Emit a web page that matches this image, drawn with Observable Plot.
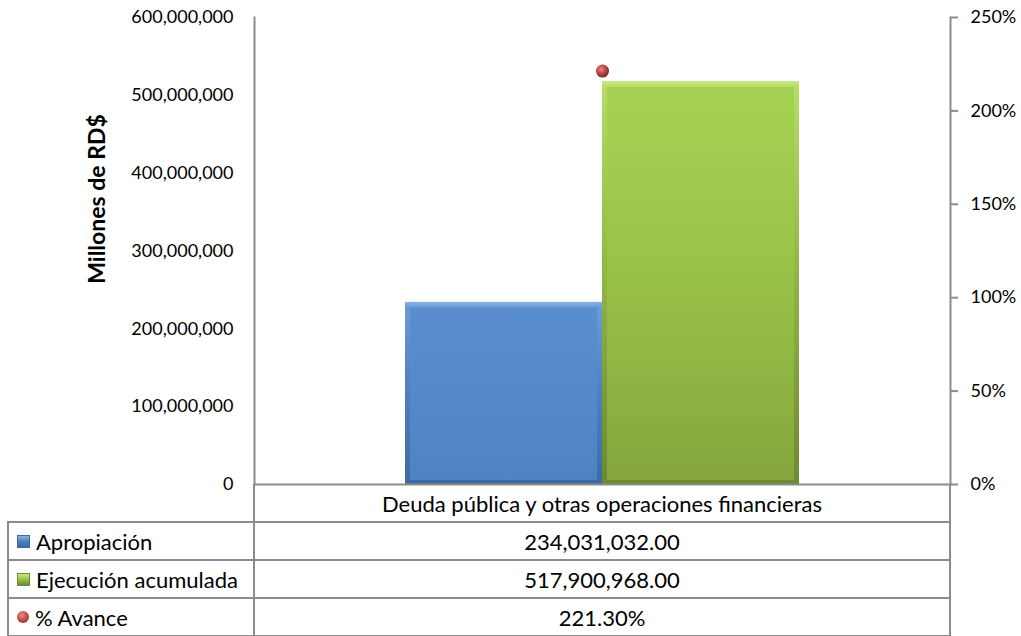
<!DOCTYPE html>
<html><head><meta charset="utf-8">
<script src="https://cdn.jsdelivr.net/npm/d3@7"></script>
<script src="https://cdn.jsdelivr.net/npm/@observablehq/plot@0.6"></script>
<style>
body{margin:0;background:#fff;font-family:Lato,"Open Sans",sans-serif;}
#wrap{position:relative;width:1021px;height:636px;overflow:hidden;background:#fff}
#wrap svg{position:absolute;left:0;top:0}
.cell{position:absolute;box-sizing:border-box;display:flex;align-items:center;font-size:22px;color:#000;white-space:nowrap}
.ln{position:absolute;background:#8c8c8c}
.ico{display:inline-block;width:13px;height:13px;margin-right:6px;box-sizing:border-box}
</style></head><body><div id="wrap"></div>
<script>
// ---- data ----
const category = "Deuda pública y otras operaciones financieras";
const series = ["Apropiación", "Ejecución acumulada"];
const values = [234031032.00, 517900968.00];
const avanceLabel = "% Avance";
const avance = [221.30];
const leftTicks = [0, 100000000, 200000000, 300000000, 400000000, 500000000, 600000000];
const rightTicks = [0, 50, 100, 150, 200, 250];
const yMax = 600000000, pMax = 250;
const yTitle = "Millones de RD$";

const fills = ["url(#gBlue)", "url(#gGreen)"];
const edges = ["url(#eBlue)", "url(#eGreen)"];
const data = series.map((s, i) => ({series: s, value: values[i], fill: fills[i], edge: edges[i]}));
const pct2y = p => p / pMax * yMax;

const W = 1021, H = 636, ML = 254, MR = 71, MT = 17, MB = 152;
const chart = Plot.plot({
  width: W, height: H, marginLeft: ML, marginRight: MR, marginTop: MT, marginBottom: MB,
  style: {fontFamily: "Lato, 'Open Sans', sans-serif", fontSize: "18px", color: "#000", background: "transparent"},
  x: {domain: series, paddingInner: 0, paddingOuter: 0.758, axis: null},
  y: {domain: [0, yMax], axis: null},
  marks: [
    Plot.barY(data, {x: "series", y: "value", fill: d => d.edge}),
    Plot.barY(data, {x: "series", y: "value", fill: d => d.fill, insetTop: 6, insetBottom: 4, insetLeft: 5, insetRight: 5}),
    Plot.ruleY([0], {stroke: "#8c8c8c", strokeWidth: 2}),
    Plot.frame({anchor: "left", stroke: "#8c8c8c", strokeWidth: 2}),
    Plot.frame({anchor: "right", stroke: "#8c8c8c", strokeWidth: 2}),
    Plot.axisY({ticks: leftTicks, anchor: "left", tickSize: 0, tickPadding: 21, tickFormat: d3.format(","), label: null, fill: "#000"}),
    Plot.axisY({ticks: rightTicks.map(pct2y), anchor: "right", tickSize: 7, tickPadding: 13, stroke: "#8c8c8c", strokeWidth: 2,
      tickFormat: v => Math.round(v / yMax * pMax) + "%", label: null, fill: "#000"}),
    Plot.dot(avance, {y: d => pct2y(d), r: 6.5, fill: "url(#gDot)", stroke: "none"}),
    Plot.text([yTitle], {frameAnchor: "left", textAnchor: "middle", rotate: -90, dx: -157, dy: -52, fontWeight: "bold", fontSize: 23, fill: "#000"})
  ]
});

// gradients
const defs = d3.select(chart).insert("defs", ":first-child");
function lin(id, stops, x2 = 0, y2 = 1) {
  const g = defs.append("linearGradient").attr("id", id).attr("x1", 0).attr("y1", 0).attr("x2", x2).attr("y2", y2);
  stops.forEach(([o, c]) => g.append("stop").attr("offset", o).attr("stop-color", c));
}
lin("gBlue", [[0, "#5a8fcf"], [1, "#4f82c2"]]);
lin("eBlue", [[0, "#8ab3e4"], [0.03, "#6a9bd6"], [0.5, "#4f80bd"], [1, "#3c6aa3"]]);
lin("gGreen", [[0, "#a6d253"], [0.5, "#98c148"], [1, "#86a63d"]]);
lin("eGreen", [[0, "#cbe88a"], [0.015, "#b5dc66"], [0.5, "#8fb444"], [1, "#6c8a30"]]);
const rg = defs.append("radialGradient").attr("id", "gDot").attr("cx", "40%").attr("cy", "35%").attr("r", "65%");
[[0, "#f08a84"], [0.45, "#c0504d"], [1, "#7a2422"]].forEach(([o, c]) => rg.append("stop").attr("offset", o).attr("stop-color", c));

const wrap = document.getElementById("wrap");
wrap.appendChild(chart);

// data table below the chart
function line(x, y, w, h) {
  const d = document.createElement("div"); d.className = "ln";
  Object.assign(d.style, {left: x + "px", top: y + "px", width: w + "px", height: h + "px"});
  wrap.appendChild(d);
}
function cell(x, y, w, h, html, center) {
  const d = document.createElement("div"); d.className = "cell";
  Object.assign(d.style, {left: x + "px", top: y + "px", width: w + "px", height: h + "px", justifyContent: center ? "center" : "flex-start", paddingLeft: center ? "0" : "9px"});
  d.innerHTML = html; wrap.appendChild(d);
}
const x0 = 8, x1 = ML, x2 = W - MR, yBase = H - MB, rh = 38;
const icons = [
  '<span class="ico" style="background:linear-gradient(#8ab3e4,#4f80bd 50%,#3c6aa3);border:1px solid #3c6aa3"></span>',
  '<span class="ico" style="background:linear-gradient(#cbe88a,#98c148 50%,#6c8a30);border:1px solid #6c8a30"></span>',
  '<span class="ico" style="width:12px;height:12px;border-radius:50%;background:radial-gradient(circle at 40% 35%,#f08a84,#c0504d 45%,#7a2422)"></span>'
];
const rowLabels = [...series, avanceLabel];
const rowValues = [...values.map(v => d3.format(",.2f")(v)), ...avance.map(v => d3.format(".2f")(v) + "%")];
cell(x1, yBase, x2 - x1, rh, category, true);
rowLabels.forEach((lab, i) => {
  const y = yBase + rh * (i + 1);
  cell(x0, y, x1 - x0, rh, icons[i] + lab, false);
  cell(x1, y, x2 - x1, rh, rowValues[i], true);
});
for (let i = 1; i <= 4; i++) line(x0, yBase + rh * i - 1, x2 - x0 + 1, 2);
line(x0 - 1, yBase + rh - 1, 2, H - yBase - rh + 1);
line(x1 - 1, yBase, 2, H - yBase);
line(x2 - 1, yBase, 2, H - yBase);
</script></body></html>
